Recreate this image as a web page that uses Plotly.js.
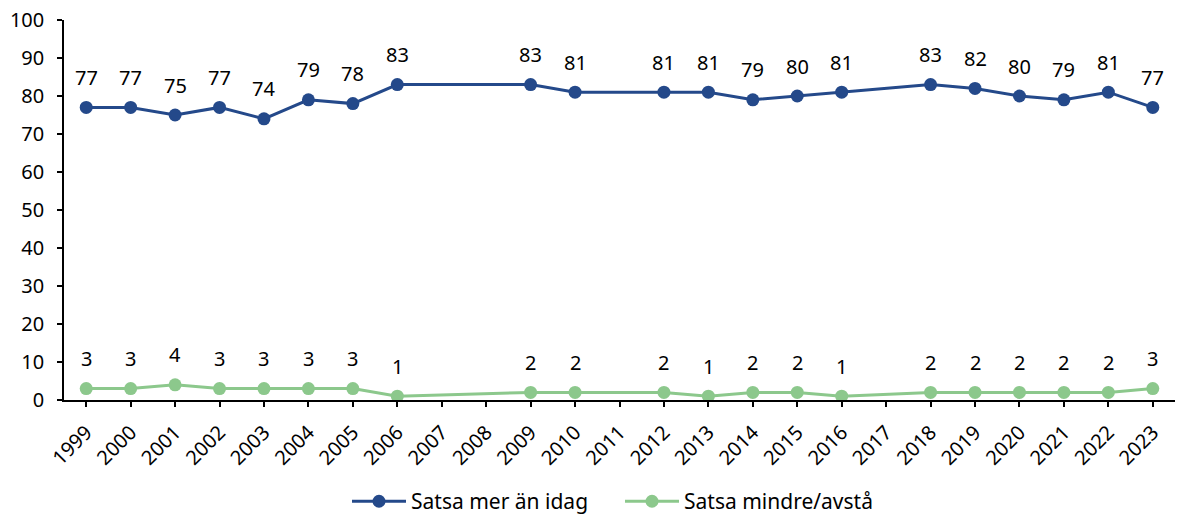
<!DOCTYPE html>
<html>
<head>
<meta charset="utf-8">
<script src="https://cdn.plot.ly/plotly-3.0.1.min.js"></script>
<style>html,body{margin:0;padding:0;background:#fff;}#chart{width:1177px;height:515px;}</style>
</head>
<body>
<div id="chart"></div>
<script>
const years = ["1999","2000","2001","2002","2003","2004","2005","2006","2007","2008","2009","2010","2011","2012","2013","2014","2015","2016","2017","2018","2019","2020","2021","2022","2023"];
const satsaMer = [77,77,75,77,74,79,78,83,null,null,83,81,null,81,81,79,80,81,null,83,82,80,79,81,77];
const satsaMindre = [3,3,4,3,3,3,3,1,null,null,2,2,null,2,1,2,2,1,null,2,2,2,2,2,3];
const seriesNames = ["Satsa mer än idag","Satsa mindre/avstå"];

const blue = "#24498A";
const green = "#8CC88C";
const fontFam = "Noto Sans";
const fs = 20;

const traces = [
  {x: years, y: satsaMer, name: seriesNames[0], type: "scatter", mode: "lines+markers", legend: "legend",
   connectgaps: true, line: {color: blue, width: 3}, marker: {color: blue, size: 13}},
  {x: years, y: satsaMindre, name: seriesNames[1], type: "scatter", mode: "lines+markers", legend: "legend2",
   connectgaps: true, line: {color: green, width: 3}, marker: {color: green, size: 13}}
];

const annotations = [];
[satsaMer, satsaMindre].forEach(arr => {
  arr.forEach((v, i) => {
    if (v === null) return;
    annotations.push({x: i, y: v, xref: "x", yref: "y", text: String(v),
      showarrow: false, yshift: 30, yanchor: "middle", xanchor: "center",
      font: {family: fontFam, size: fs, color: "#000"}});
  });
});

const legendBase = {orientation: "h", xref: "container", xanchor: "left",
  yref: "container", y: 0.026, yanchor: "middle", bgcolor: "rgba(0,0,0,0)",
  font: {family: fontFam, size: 21, color: "#000"}, itemwidth: 54};

const layout = {
  width: 1177, height: 515,
  margin: {l: 64, r: 2, t: 20, b: 115},
  paper_bgcolor: "#fff", plot_bgcolor: "#fff",
  font: {family: fontFam, size: fs, color: "#000"},
  showlegend: true,
  legend: Object.assign({}, legendBase, {x: 347 / 1177}),
  legend2: Object.assign({}, legendBase, {x: 620 / 1177}),
  xaxis: {type: "category", tickangle: -45, showgrid: false, zeroline: false, automargin: false,
    showline: true, linecolor: "#000", linewidth: 1.5, ticks: "outside", ticklen: 5,
    tickcolor: "#000", tickwidth: 1.5, range: [-0.5, 24.5], ticklabelstandoff: 6,
    tickfont: {family: fontFam, size: fs, color: "#000"}},
  yaxis: {range: [0, 100], dtick: 10, showgrid: false, zeroline: false, automargin: false,
    showline: true, linecolor: "#000", linewidth: 1.5, ticks: "outside", ticklen: 5,
    tickcolor: "#000", tickwidth: 1.5, ticklabelstandoff: 9,
    tickfont: {family: fontFam, size: fs, color: "#000"}},
  annotations: annotations
};

Plotly.newPlot("chart", traces, layout, {displayModeBar: false});
</script>
</body>
</html>
